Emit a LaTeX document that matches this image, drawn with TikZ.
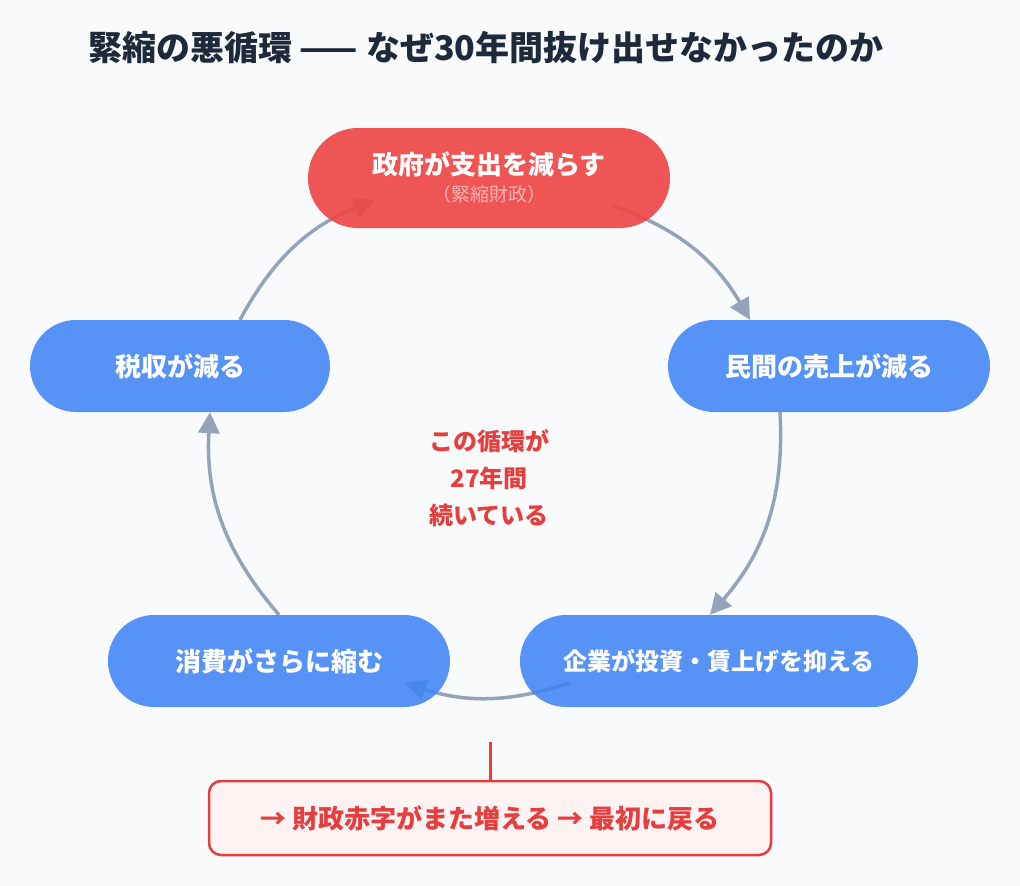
\documentclass[tikz,border=0pt]{standalone}
\usepackage{fontspec}
\setmainfont{Noto Sans CJK JP}
\usetikzlibrary{arrows.meta}
\definecolor{bgpaper}{HTML}{F9FAFB}
\definecolor{cutred}{HTML}{EF4444}
\definecolor{stageblue}{HTML}{3B82F6}
\definecolor{arcgray}{HTML}{94A3B8}
\definecolor{textred}{HTML}{E53E3E}
\definecolor{titleink}{HTML}{1E293B}
\definecolor{notepink}{HTML}{FEF2F2}
\definecolor{subpink}{HTML}{FAB0B0}
\pgfdeclarelayer{paper}
\pgfdeclarelayer{arcs}
\pgfsetlayers{paper,arcs,main}

\begin{document}
\begin{tikzpicture}[x=1pt, y=1pt,
                    line width=3.5pt,
                    ]
    \tikzstyle{stage}=[rectangle, rounded corners=46pt, minimum height=92pt, fill=stageblue, fill opacity=0.85, text opacity=1, text=white, font=\fontsize{26}{30}\selectfont\bfseries]
    \tikzstyle{govstage}=[stage, rounded corners=50pt, minimum height=100pt, minimum width=362pt, fill=cutred, fill opacity=0.9, align=center]
    \tikzstyle{cyc}=[draw=arcgray, line width=3.5pt, -{Triangle[length=21pt,width=21pt]}]
    \tikzstyle{notebox}=[rectangle, rounded corners=12pt, draw=textred, line width=2.5pt, fill=notepink, minimum width=562pt, minimum height=74pt, text=textred, font=\fontsize{26}{30}\selectfont\bfseries]

    \useasboundingbox (0,0) rectangle (1020,-886);
    \begin{pgfonlayer}{paper}
        \fill[bgpaper] (0,0) rectangle (1020,-886);
    \end{pgfonlayer}

    \node[anchor=west, inner sep=0pt, text=titleink, font=\fontsize{34}{40}\selectfont\bfseries] (title) at (88,-48) {緊縮の悪循環 —— なぜ30年間抜け出せなかったのか};

    \node[govstage] (gov) at (489,-178) {政府が支出を減らす\\[-3pt]{\fontsize{19}{22}\selectfont\mdseries\color{subpink}（緊縮財政）}};
    \node[stage, minimum width=322pt] (sales) at (829,-366) {民間の売上が減る};
    \node[stage, minimum width=398pt, font=\fontsize{24}{30}\selectfont\bfseries] (firm) at (719,-661) {企業が投資・賃上げを抑える};
    \node[stage, minimum width=342pt] (spend) at (279,-661) {消費がさらに縮む};
    \node[stage, minimum width=300pt] (tax) at (180,-366) {税収が減る};

    \node[align=center, text=textred, font=\fontsize{24}{37}\selectfont\bfseries] (years) at (489,-478) {この循環が\\27年間\\続いている};

    \begin{pgfonlayer}{arcs}
        \draw[cyc] ([shift={(-58pt,23pt)}]gov.south east) to[bend left=20] ([xshift=-79pt]sales.north);
        \draw[cyc] ([xshift=-49pt]sales.south) to[bend left=22] ([xshift=-9pt]firm.north);
        \draw[cyc] ([shift={(50pt,-22pt)}]firm.west) to[bend left=18] ([shift={(-45pt,-22pt)}]spend.east);
        \draw[cyc] (spend.north) to[bend left=22] ([xshift=30pt]tax.south);
        \draw[cyc] ([xshift=60pt]tax.north) to[bend left=20] ([shift={(67pt,28pt)}]gov.south west);
    \end{pgfonlayer}

    \node[notebox] (note) at (490,-818) {→ 財政赤字がまた増える → 最初に戻る};
    \coordinate (drop) at (490,-742);
    \draw[textred, line width=3pt] (drop) -- (note.north);
\end{tikzpicture}
\end{document}
